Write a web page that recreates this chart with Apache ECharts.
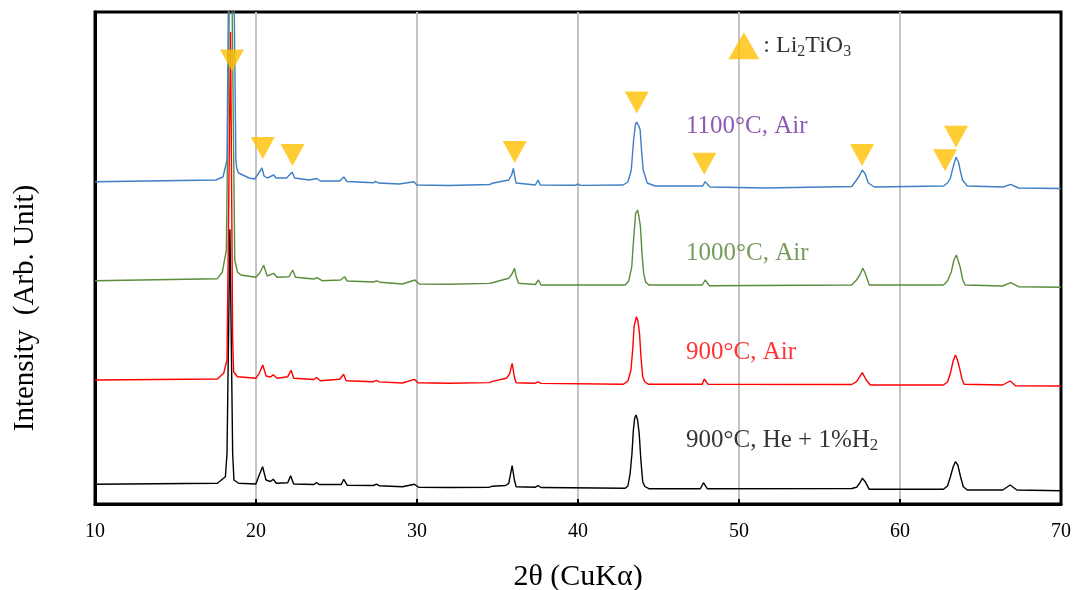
<!DOCTYPE html>
<html>
<head>
<meta charset="utf-8">
<script src="https://cdn.jsdelivr.net/npm/echarts@6/dist/echarts.min.js"></script>
<style>
  html, body { margin: 0; padding: 0; background: #fff; }
  #chart { width: 1081px; height: 590px; }
</style>
</head>
<body>
<div id="chart"></div>
<script>
// XRD patterns of Li2TiO3 pebbles after heat treatment, [2θ (deg), intensity (arb.)]
const he900 = [[10,19.7],[17.6,20.7],[18.1,27.3],[18.2,50.7],[18.38,274.7],[18.55,50.7],[18.63,24],[18.92,20.7],[19.99,20],[20.2,29],[20.41,37.3],[20.62,24],[20.9,22.5],[21.07,24.7],[21.26,20.7],[21.97,21.3],[22.15,28.3],[22.34,20],[23.6,19.5],[23.76,21.5],[23.92,19.5],[25.3,19.5],[25.45,24.7],[25.67,18.7],[27.3,18.5],[27.48,19.8],[27.65,18.3],[29.1,17.3],[29.84,19.7],[30.1,16.7],[32,16.5],[34.5,16.8],[34.68,17.8],[35.5,18.5],[35.7,20.7],[35.91,38.3],[36.05,24],[36.16,17.3],[37.35,16.8],[37.52,18.3],[37.7,16.5],[42.93,15.7],[43.1,18],[43.24,30.7],[43.35,50],[43.44,74],[43.52,86],[43.61,89],[43.7,84],[43.8,70.7],[43.9,45],[44.02,22.3],[44.15,17.5],[44.4,15.3],[47.6,15.3],[47.79,21.3],[48.03,15.3],[57.0,15.5],[57.3,16.7],[57.5,21],[57.66,25.7],[57.84,22.3],[58.09,14.7],[62.7,14.7],[62.95,18],[63.13,27.3],[63.3,37],[63.44,42.3],[63.59,39],[63.75,28],[63.93,17.3],[64.18,14],[66.38,14],[66.84,19],[67.26,14],[70,13.3]];

const air900 = [[10,19],[17.6,20],[17.99,25.7],[18.2,39],[18.42,367],[18.55,60],[18.61,27.3],[18.85,22.3],[19.99,20.7],[20.2,25.7],[20.42,34],[20.63,23],[20.9,22],[21.07,24.3],[21.31,20.7],[21.97,22.3],[22.18,28.7],[22.34,20.7],[23.6,19.5],[23.76,21.5],[24.0,18.3],[25.2,19.7],[25.44,24.7],[25.6,18.3],[27.3,17.3],[27.48,18.6],[27.65,17.1],[29.1,16],[29.84,19.7],[30.05,16.3],[32,15.7],[34.5,16.4],[34.68,17.6],[35.55,20.7],[35.75,25],[35.91,35.7],[36.05,22],[36.16,16.3],[37.35,15.8],[37.52,17.2],[37.7,15.6],[42.8,14.7],[43.1,18],[43.29,29],[43.4,50],[43.48,72.3],[43.63,82.3],[43.72,78],[43.82,65.7],[43.92,40],[44.02,22.3],[44.15,17],[44.4,14.7],[47.72,14.7],[47.84,20],[48.08,14.7],[57.0,14.5],[57.3,17.3],[57.66,26.3],[57.9,19],[58.16,14],[62.7,14],[62.95,17],[63.13,25.7],[63.3,38],[63.44,44],[63.55,40],[63.68,32.3],[63.85,20],[63.98,14.7],[66.38,14],[66.84,18],[67.18,13.3],[70,13]];

const air1000 = [[10,19.3],[17.6,21.3],[17.91,28],[18.16,50],[18.36,320],[18.5,320],[18.68,40],[18.85,28],[19.06,25],[19.99,22.7],[20.24,27.3],[20.48,34.7],[20.69,24],[21.1,26.7],[21.3,22.7],[22.05,23.3],[22.28,30],[22.45,22.7],[23.6,21],[23.8,22.3],[24.1,19.3],[25.25,20],[25.5,23.3],[25.67,19],[27.3,18],[27.5,19.2],[27.7,17.8],[29.1,16],[29.87,20],[30.14,16],[32,15.7],[34.5,16.6],[34.68,17.3],[35.7,21.7],[35.9,26],[36.06,31.7],[36.15,24],[36.3,16.7],[37.35,15.5],[37.54,20],[37.7,15],[42.93,15],[43.15,19],[43.34,33.3],[43.45,60],[43.58,86.7],[43.7,90],[43.78,84],[43.88,73.3],[43.98,45],[44.08,26.7],[44.2,18],[44.4,15],[47.72,15],[47.9,20],[48.15,14.3],[57.0,15],[57.3,20],[57.5,25],[57.69,31.7],[57.84,26.7],[58.09,15],[62.7,15],[62.95,19],[63.19,28.3],[63.35,40],[63.5,45],[63.6,40],[63.73,33.3],[63.9,20],[64.05,15],[66.38,14],[66.87,17.3],[67.36,13.3],[70,12.7]];

const air1100 = [[10,19.3],[17.5,21],[17.95,24],[18.2,41],[18.36,340],[18.55,340],[18.75,41],[18.8,33],[18.92,28],[19.57,23],[19.92,22],[20.17,28],[20.26,27],[20.37,33],[20.5,25],[20.7,23],[21.1,26],[21.24,23],[21.9,23],[22.25,29],[22.4,23],[23.3,21],[23.78,22.5],[24.0,20],[25.2,20],[25.45,24],[25.65,19.5],[27.3,18.3],[27.45,19.5],[27.6,18],[28.9,17],[29.8,19.3],[30.0,16],[32,15.5],[34.5,16.5],[34.68,17.7],[35.7,21],[35.88,26],[35.99,32.7],[36.07,25],[36.15,18],[37.35,16],[37.52,21],[37.65,16],[39.85,15.8],[40.0,17],[40.15,15.6],[42.8,16],[43.1,19],[43.31,31],[43.45,60],[43.56,76],[43.64,79],[43.7,78],[43.78,75],[43.86,71],[43.95,50],[44.05,31],[44.3,18],[44.79,15],[46,15],[47.75,15],[47.9,19.3],[48.2,14],[51.65,13],[57.0,14.5],[57.3,21],[57.5,26],[57.66,31],[57.84,27],[58.03,18],[58.4,14],[62.7,15],[62.95,18],[63.13,23],[63.3,34],[63.48,43.7],[63.63,39],[63.75,30],[63.88,21],[64.18,15],[66.4,14],[66.87,16.7],[67.36,13],[70,12.5]];

// vertical stacking of the four patterns (bottom to top)
const traceNames   = ['900°C, He + 1%H2', '900°C, Air', '1000°C, Air', '1100°C, Air'];
const traceData    = [he900, air900, air1000, air1100];
const traceOffsets = [0, 105, 204, 303];

// Li2TiO3 reflections marked above the 1100°C pattern [2θ, stacked intensity]
const li2tio3Marks = [[18.51,443.5],[20.42,356],[22.27,349],[36.07,352],[43.65,401.5],[47.84,340.3],[57.64,349],[62.8,343.7],[63.48,367.3]];

// x axis ticks
const xMin = 10, xMax = 70, xStep = 10;

const FONT = "'Liberation Serif', 'Times New Roman', serif";
const traceColors = ['#000000', '#ff0000', '#5b8c3e', '#3f7fc3'];
const labelColors = ['#000000', '#ff0000', '#548235', '#7030a0'];
const labelAnchors = [[46.68, 64], [46.68, 151.5], [46.68, 251], [46.68, 378]];

function subscriptText(s) {
  // digits following a letter are set as subscripts, e.g. "H2"
  return '{t|' + s.replace(/([A-Za-z])(\d)/g, '$1}{sub|$2}{t|') + '}';
}

const chart = echarts.init(document.getElementById('chart'), null, { renderer: 'canvas' });

const series = traceData.map((d, i) => ({
  type: 'line',
  name: traceNames[i],
  data: d.map(p => [p[0], p[1] + traceOffsets[i]]),
  showSymbol: false,
  symbol: 'none',
  clip: true,
  lineStyle: { color: traceColors[i], width: 1.4 },
  z: 3 + i
}));

series.push({
  type: 'scatter',
  name: 'Li2TiO3 peaks',
  data: li2tio3Marks,
  symbol: 'triangle',
  symbolRotate: 180,
  symbolSize: [24, 22],
  itemStyle: { color: '#ffc000' },
  z: 10
});

// key for the triangle marks
series.push({
  type: 'scatter',
  data: [[50.3, 458.3]],
  symbol: 'triangle',
  symbolSize: [31, 27],
  itemStyle: { color: '#ffc000' },
  label: {
    show: true, position: 'right', distance: 4, color: '#000',
    formatter: '{t|: Li}{sub|2}{t|TiO}{sub|3}',
    rich: {
      t:   { fontFamily: FONT, fontSize: 24, color: '#000' },
      sub: { fontFamily: FONT, fontSize: 16, color: '#000', padding: [12, 0, 0, 0] }
    }
  },
  z: 10
});

// sample labels next to each pattern
series.push({
  type: 'scatter',
  symbolSize: 1,
  itemStyle: { color: 'rgba(0,0,0,0)' },
  data: traceNames.map((n, i) => ({
    value: labelAnchors[i],
    label: {
      show: true, position: 'right', distance: 0,
      formatter: subscriptText(n),
      rich: {
        t: { fontFamily: FONT, fontSize: 25, color: labelColors[i] },
        sub: { fontFamily: FONT, fontSize: 17, color: labelColors[i], padding: [12, 0, 0, 0] }
      }
    }
  })),
  z: 11
});

chart.setOption({
  animation: false,
  backgroundColor: '#fff',
  grid: {
    left: 95, right: 20, top: 12, bottom: 86,
    containLabel: false, outerBoundsMode: 'none',
    show: true, borderColor: '#000', borderWidth: 3, backgroundColor: 'transparent'
  },
  xAxis: {
    type: 'value', min: xMin, max: xMax, interval: xStep,
    name: '2θ (CuKα)', nameLocation: 'middle', nameGap: 58,
    nameTextStyle: { fontFamily: FONT, fontSize: 30, color: '#000' },
    axisLine: { show: true, lineStyle: { color: '#000', width: 3 } },
    axisTick: { show: true, inside: true, length: 5, lineStyle: { color: '#000', width: 2 } },
    axisLabel: { fontFamily: FONT, fontSize: 20, color: '#000', margin: 18 },
    splitLine: { show: true, showMinLine: false, showMaxLine: false, lineStyle: { color: '#c4c4c4', width: 2 } }
  },
  yAxis: {
    type: 'value', min: 0, max: 492,
    axisLine: { show: true, lineStyle: { color: '#000', width: 3 } },
    axisTick: { show: false },
    axisLabel: { show: false },
    splitLine: { show: false }
  },
  graphic: [{
    type: 'text',
    x: 25, y: 308,
    rotation: Math.PI / 2,
    silent: true,
    style: {
      text: 'Intensity  (Arb. Unit)',
      fontFamily: FONT, fontSize: 29, fill: '#000',
      align: 'center', verticalAlign: 'middle'
    }
  }],
  series: series
});
</script>
</body>
</html>
